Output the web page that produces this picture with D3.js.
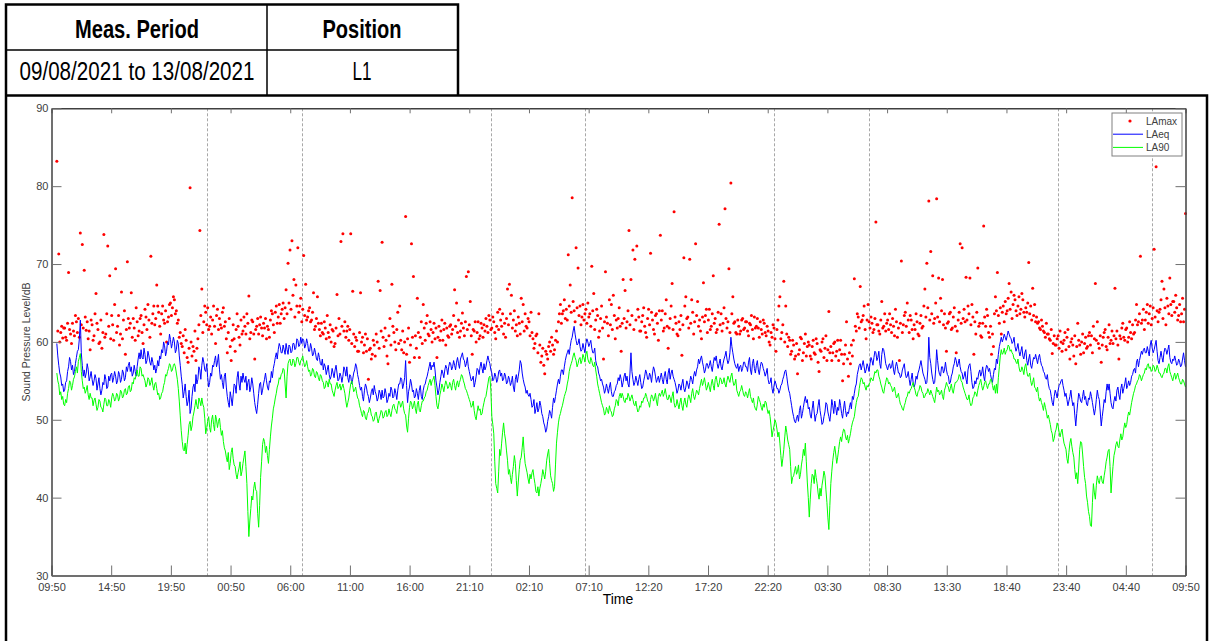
<!DOCTYPE html>
<html>
<head>
<meta charset="utf-8">
<script src="https://d3js.org/d3.v7.min.js"></script>
<style>
  body { margin: 0; background: #fff; }
  svg { display: block; font-family: "Liberation Sans", Arial, sans-serif; }
</style>
</head>
<body>
<svg id="chart"></svg>
<script>
var width = 1213, height = 641;

// header table
var headerLabels = ["Meas. Period", "Position"];
var headerValues = ["09/08/2021 to 13/08/2021", "L1"];

// axes
var tickLabels = ["09:50", "14:50", "19:50", "00:50", "06:00", "11:00", "16:00", "21:10", "02:10", "07:10",
                  "12:20", "17:20", "22:20", "03:30", "08:30", "13:30", "18:40", "23:40", "04:40", "09:50"];
var yTicks = [30, 40, 50, 60, 70, 80, 90];
var spanHours = 96;            // 09:50 09/08 -> 09:50 13/08
var sampleStart = 0.45;        // first logged sample, hours after 09:50
// day / night boundaries (23:00 and 07:00), hours after 09:50
var periodLines = [13.17, 21.17, 37.17, 45.17, 61.17, 69.17, 85.17, 93.17];

var seriesNames = ["LAmax", "LAeq", "LA90"];

// LAmax, dB (5 min)
var laMax = [
  83.2, 61.4, 71.3, 60.0, 61.2, 62.0, 60.5, 61.8, 61.8, 60.6, 60.2, 62.4, 68.9, 61.6, 61.0, 59.8, 62.4, 61.4, 60.8, 63.4,
  62.6, 61.2, 63.0, 60.6, 74.0, 62.2, 72.5, 61.8, 69.2, 63.2, 61.5, 62.6, 60.4, 61.4, 59.0, 62.8, 62.2, 60.2, 60.8, 63.6,
  66.2, 62.4, 61.6, 59.8, 60.0, 62.8, 59.2, 61.2, 73.8, 60.6, 61.0, 63.6, 72.3, 62.0, 68.5, 60.4, 63.4, 62.2, 60.2, 64.8,
  69.4, 61.2, 62.0, 63.4, 59.6, 61.0, 66.4, 60.4, 62.8, 64.0, 58.4, 61.6, 70.3, 63.0, 61.8, 62.4, 66.3, 60.6, 63.0, 61.8,
  60.2, 64.4, 62.6, 60.8, 61.4, 63.0, 63.4, 61.2, 59.8, 62.2, 64.2, 63.2, 61.6, 64.8, 62.8, 60.6, 71.0, 62.4, 63.6, 64.6,
  62.2, 63.0, 67.3, 64.6, 63.8, 62.0, 61.0, 63.6, 64.6, 62.8, 62.4, 64.0, 60.0, 62.6, 63.2, 64.8, 65.0, 63.4, 64.4, 65.8,
  65.4, 63.6, 64.0, 62.4, 62.8, 60.6, 61.2, 59.8, 59.4, 60.8, 58.6, 61.6, 60.2, 58.0, 57.4, 59.2, 79.8, 60.0, 58.2, 59.4,
  58.8, 61.4, 57.6, 59.2, 60.4, 62.2, 74.3, 63.4, 66.8, 61.2, 62.6, 64.6, 63.8, 62.2, 64.4, 61.6, 62.0, 63.2, 61.0, 62.8,
  64.6, 62.0, 59.8, 63.4, 64.2, 61.6, 63.0, 62.2, 61.8, 63.8, 64.4, 62.0, 62.6, 60.4, 58.6, 61.2, 63.0, 59.4, 57.6, 60.2,
  62.2, 60.4, 58.8, 61.6, 63.6, 62.0, 60.6, 59.6, 62.8, 61.0, 61.4, 63.2,
  62.0, 61.0, 63.6, 62.4, 65.9, 60.4, 61.2, 62.8, 62.6, 61.0, 57.8, 61.6, 62.0, 63.0, 61.0, 62.2, 63.2, 61.8, 60.8, 62.4,
  61.8, 63.0, 60.4, 62.0, 61.6, 60.6, 62.8, 64.0, 63.6, 62.2, 61.2, 63.8, 64.6, 62.4, 63.2, 64.8, 62.4, 63.6, 64.2, 65.0,
  63.0, 64.4, 66.7, 63.6, 70.1, 65.0, 71.8, 64.2, 73.0, 66.0, 68.0, 63.2, 67.3, 64.6, 72.1, 63.8, 64.6, 65.6, 62.6, 64.2,
  71.1, 63.4, 67.4, 62.8, 63.2, 64.0, 64.4, 62.6, 62.8, 63.8, 66.3, 61.6, 62.0, 63.0, 65.8, 62.4, 61.6, 60.8, 62.4, 61.2,
  61.0, 62.6, 61.8, 60.4, 63.4, 61.2, 60.6, 62.2, 60.0, 61.6, 61.4, 59.4, 59.8, 61.8, 66.1, 60.8, 63.0, 61.0, 72.9, 62.0,
  73.9, 61.4, 62.6, 60.6, 61.4, 62.0, 60.2, 61.6, 73.9, 59.8, 66.5, 61.0, 59.4, 60.6, 60.2, 58.8, 58.8, 61.2, 66.3, 60.0,
  60.6, 58.6, 59.6, 61.0, 58.8, 60.4, 55.2, 59.0, 59.2, 57.8, 58.4, 60.2, 59.6, 58.2, 61.0, 60.0, 67.8, 59.2, 66.6, 61.4,
  72.8, 60.6, 59.4, 61.8, 60.2, 58.2, 57.2, 60.8, 63.0, 59.6, 67.4, 62.0, 61.2, 60.0, 59.0, 61.6, 63.8, 59.8, 64.6, 60.2,
  59.0, 61.4, 58.6, 60.0, 76.1, 58.4, 60.4, 61.8, 57.4, 59.6, 72.6, 60.6, 68.4, 58.0, 60.8, 59.2, 65.6, 61.2, 58.0, 60.6,
  62.6, 59.8, 64.8, 61.8, 60.2, 62.4, 63.4, 61.0, 60.8, 62.6, 61.6, 60.0,
  61.2, 62.4, 60.4, 61.8, 58.0, 60.6, 62.0, 60.2, 61.4, 62.8, 60.2, 61.6, 62.4, 59.6, 61.8, 60.8, 60.6, 62.0, 62.2, 61.0,
  61.6, 63.4, 66.7, 62.0, 65.0, 61.2, 62.8, 60.6, 61.4, 62.4, 63.7, 61.8, 60.8, 62.6, 68.4, 61.6, 69.0, 62.2, 65.2, 60.8,
  58.4, 61.6, 61.4, 62.6, 60.0, 61.2, 62.6, 60.4, 60.8, 62.4, 61.8, 60.6, 62.2, 61.4, 63.0, 62.0, 61.2, 63.4, 62.8, 61.6,
  61.8, 63.2, 62.6, 61.2, 60.4, 62.0, 63.8, 61.6, 64.2, 62.8, 62.0, 63.6, 61.0, 62.4, 60.6, 63.0, 66.8, 62.2, 67.4, 63.6,
  66.0, 61.8, 62.8, 64.0, 61.4, 62.2, 60.8, 63.2, 62.4, 61.0, 65.6, 62.6, 64.8, 61.4, 63.6, 62.0, 61.8, 63.0, 62.6, 60.8,
  63.8, 61.2, 60.4, 59.2, 59.8, 60.8, 61.0, 58.6, 63.6, 59.6, 57.4, 58.2, 59.2, 57.0, 55.9, 58.8, 58.4, 57.8, 59.4, 60.0,
  58.8, 60.6, 59.6, 58.4, 59.0, 60.2, 61.4, 60.0, 62.6, 63.6, 64.8, 62.4, 63.6, 64.0, 65.4, 63.0, 64.2, 62.8, 71.2, 64.6,
  67.3, 63.8, 78.5, 65.2, 64.0, 62.6, 72.1, 64.4, 69.5, 63.4, 64.6, 62.2, 63.2, 64.8, 62.8, 63.6, 64.2, 62.4, 65.0, 63.2,
  63.6, 62.0, 69.7, 64.0, 66.2, 61.6, 62.8, 64.2, 63.4, 60.6, 61.4, 63.0, 64.6, 61.8, 57.8, 62.6, 69.0, 63.2, 62.4, 60.8,
  65.4, 62.2, 64.8, 61.6, 66.0, 63.4, 60.4, 62.8, 61.8, 63.0, 64.4, 62.0,
  58.8, 62.4, 68.0, 63.0, 66.6, 61.8, 62.6, 64.0, 74.3, 62.2, 68.0, 63.4, 71.8, 61.6, 70.6, 62.8, 72.3, 64.2, 63.2, 61.4,
  61.4, 62.6, 63.4, 64.4, 62.0, 61.2, 60.6, 63.0, 64.2, 62.2, 71.4, 63.8, 62.8, 61.6, 61.0, 63.4, 63.6, 62.4, 60.2, 64.0,
  73.7, 62.8, 64.0, 61.4, 61.8, 63.6, 65.4, 62.0, 59.2, 61.8, 63.0, 64.6, 67.5, 61.6, 76.7, 63.2, 62.4, 61.0, 60.8, 62.6,
  61.6, 63.4, 58.3, 62.2, 70.8, 64.6, 65.8, 63.0, 63.2, 61.8, 70.6, 62.4, 65.4, 63.8, 61.0, 62.6, 72.6, 63.4, 65.2, 62.0,
  62.8, 61.4, 60.4, 63.2, 67.6, 62.6, 63.4, 64.2, 61.2, 62.8, 64.2, 61.6, 62.0, 63.6, 68.5, 62.4, 63.0, 61.2, 61.6, 63.8,
  75.1, 62.2, 63.6, 61.4, 62.4, 64.4, 77.1, 63.0, 61.8, 62.6, 69.4, 61.2, 80.4, 63.6, 65.8, 62.4, 62.6, 61.2, 61.0, 62.8,
  62.0, 61.0, 61.4, 62.8, 63.0, 61.6, 61.8, 62.6, 62.6, 61.4, 60.8, 62.4, 62.2, 63.4, 61.6, 60.4, 63.2, 61.8, 62.0, 63.0,
  61.8, 60.6, 62.6, 61.6, 61.0, 62.8, 62.4, 61.2, 60.8, 62.0, 61.4, 60.0, 59.6, 61.2, 60.6, 62.2, 61.8, 60.4, 58.8, 61.6,
  62.8, 64.6, 65.8, 60.4, 61.2, 62.2, 67.8, 60.0, 64.6, 61.0, 59.4, 60.6, 60.2, 58.4, 58.8, 60.2, 59.6, 57.8, 58.2, 59.8,
  55.9, 58.4, 59.0, 60.6, 60.4, 57.6, 58.6, 59.8, 61.0, 58.2, 59.4, 60.0,
  59.6, 58.2, 57.8, 59.4, 60.2, 58.6, 58.4, 60.4, 59.8, 57.4, 56.2, 59.0, 58.8, 60.0, 60.4, 58.0, 59.2, 60.8, 57.6, 59.0,
  63.9, 58.6, 59.4, 57.6, 58.6, 59.8, 60.0, 58.2, 58.8, 60.2, 57.6, 59.0, 60.2, 58.4, 55.0, 57.2, 58.4, 59.6, 62.6, 57.8,
  55.6, 58.6, 57.2, 59.6, 58.2, 60.2, 68.1, 62.0, 61.4, 63.6, 63.2, 61.8, 67.1, 62.6, 62.8, 63.4, 64.6, 61.6, 60.4, 62.8,
  64.8, 62.6, 61.8, 63.2, 62.4, 61.2, 61.6, 63.0, 75.4, 62.2, 62.2, 61.4, 61.0, 62.8, 65.2, 61.8, 62.0, 63.6, 61.4, 62.4,
  62.8, 61.6, 63.6, 62.2, 61.2, 63.0, 62.0, 60.8, 64.2, 62.6, 60.6, 61.8, 57.6, 62.4, 70.4, 61.2, 62.2, 63.4, 63.8, 62.0,
  65.0, 62.8, 61.2, 63.4, 62.8, 61.6, 60.4, 62.2, 61.6, 63.6, 62.6, 61.0, 60.8, 62.4, 63.4, 61.8, 62.0, 64.6, 66.8, 63.2,
  70.1, 64.4, 78.1, 62.8, 71.6, 63.6, 68.5, 62.4, 63.0, 65.0, 78.4, 63.2, 68.2, 62.6, 65.6, 64.0, 68.0, 62.2, 63.6, 61.8,
  58.8, 62.4, 62.6, 63.6, 63.8, 61.6, 61.8, 63.2, 64.4, 62.0, 58.6, 61.4, 62.8, 63.8, 72.6, 62.4, 72.1, 63.0, 64.2, 62.6,
  68.3, 62.8, 64.6, 63.6, 68.2, 62.2, 64.8, 63.2, 58.4, 62.6, 61.0, 63.8, 69.5, 62.0, 62.4, 60.8, 60.6, 62.4, 74.9, 63.2,
  62.0, 64.2, 63.4, 61.2, 60.6, 62.0, 58.4, 61.0, 59.4, 63.6, 65.8, 64.0,
  68.9, 63.4, 62.4, 64.4, 61.0, 63.8, 64.6, 62.6, 65.2, 63.6, 64.0, 65.6, 67.5, 64.2, 66.4, 63.0, 64.8, 66.0, 65.4, 64.0,
  63.4, 64.6, 65.8, 63.6, 64.2, 66.2, 65.4, 63.8, 63.2, 64.4, 63.8, 65.0, 70.2, 63.6, 64.6, 62.8, 66.9, 63.4, 64.8, 62.6,
  63.2, 62.4, 62.6, 61.8, 61.6, 62.8, 62.0, 61.4, 61.2, 60.6, 62.4, 61.0, 61.0, 60.4, 60.2, 61.6, 58.5, 59.8, 60.8, 59.6,
  59.6, 60.4, 60.8, 59.2, 61.4, 60.0, 58.8, 59.8, 60.2, 61.2, 59.0, 60.6, 61.6, 59.4, 57.8, 60.0, 60.4, 59.6, 58.2, 60.8,
  57.2, 59.4, 62.4, 60.2, 59.6, 58.4, 60.0, 61.0, 58.6, 59.8, 60.6, 59.2, 59.4, 60.8, 61.2, 59.6, 60.8, 58.6, 62.0, 60.4,
  67.5, 60.2, 62.6, 59.8, 59.2, 60.8, 57.4, 59.6, 60.6, 61.2, 61.6, 59.4, 59.0, 60.6, 62.2, 59.8, 60.2, 61.4, 59.8, 60.8,
  66.9, 60.4, 61.4, 59.6, 57.8, 60.8, 60.4, 61.8, 62.4, 60.6, 60.2, 61.6, 61.8, 60.0, 60.6, 62.6, 61.2, 60.4, 62.2, 61.0,
  61.2, 62.8, 64.8, 62.2, 62.6, 63.6, 71.0, 62.4, 62.8, 64.2, 61.6, 62.8, 63.8, 64.8, 62.4, 63.6, 64.6, 62.2, 63.0, 64.4,
  71.9, 63.2, 82.5, 64.0, 62.6, 63.8, 64.2, 65.4, 67.8, 63.0, 66.8, 64.4, 62.2, 65.6, 64.6, 63.6, 68.2, 64.8, 63.4, 65.2,
  65.2, 63.8, 66.0, 64.4, 62.8, 63.4, 64.8, 62.6, 63.6, 65.6, 62.6, 64.2, 76.5
];

// LAeq, dB (5 min)
var laEq = [
  59.8, 58.2, 57.0, 56.0, 55.5, 54.4, 54.6, 53.6, 53.8, 54.8, 55.0, 56.2, 56.8, 58.0, 57.5, 56.4, 57.0, 55.8, 56.2, 57.2,
  58.0, 58.8, 59.0, 60.4, 62.8, 58.6, 57.0, 55.6, 56.4, 55.4, 56.0, 57.2, 56.5, 55.0, 55.5, 56.2, 55.2, 54.4, 55.0, 55.8,
  55.3, 53.8, 54.6, 55.4, 54.0, 53.2, 53.8, 54.8, 54.5, 55.8, 55.2, 54.0, 54.2, 55.6, 55.0, 55.8, 56.0, 54.8, 55.4, 56.2,
  55.6, 54.6, 55.0, 56.2, 55.8, 54.8, 55.2, 56.4, 56.0, 55.0, 55.4, 56.8, 56.2, 57.0, 57.4, 56.2, 56.8, 55.6, 56.0, 57.0,
  56.2, 55.6, 56.8, 57.8, 58.6, 57.8, 59.0, 58.0, 57.8, 59.2, 58.4, 57.2, 57.6, 58.8, 58.2, 57.4, 57.0, 58.0, 57.4, 56.4,
  57.0, 56.0, 56.6, 57.6, 56.9, 58.2, 57.8, 59.0, 58.6, 60.0, 59.5, 58.2, 58.8, 60.0, 59.6, 61.0, 60.3, 59.2, 59.8, 60.6,
  60.0, 58.6, 59.0, 60.2, 59.8, 58.2, 57.0, 55.6, 54.5, 52.8, 53.6, 54.6, 53.0, 51.8, 52.4, 53.8, 50.8, 51.4, 53.0, 54.2,
  54.6, 53.6, 55.8, 54.6, 55.2, 56.8, 56.4, 55.2, 57.0, 58.0, 57.4, 56.4, 56.2, 57.2, 55.4, 54.2, 54.8, 56.0, 55.6, 57.0,
  56.8, 57.6, 58.2, 56.8, 57.4, 58.4, 56.5, 55.2, 55.8, 54.8, 54.0, 55.6, 56.0, 54.2, 53.0, 52.2, 51.6, 53.6, 52.8, 51.8,
  53.2, 54.6, 54.4, 53.4, 55.4, 56.2, 54.6, 53.8, 55.6, 54.8, 56.0, 55.2,
  54.8, 55.6, 53.8, 54.8, 55.2, 53.6, 54.2, 55.4, 54.6, 53.4, 52.2, 51.4, 50.8, 52.0, 53.4, 54.6, 54.8, 53.2, 53.8, 54.6,
  55.2, 56.0, 55.0, 54.2, 53.8, 55.0, 54.8, 56.2, 55.4, 56.6, 57.2, 58.0, 58.6, 57.8, 59.0, 59.8, 59.4, 58.6, 58.6, 59.6,
  59.0, 58.4, 59.8, 59.0, 58.4, 59.6, 59.4, 58.6, 58.8, 59.8, 59.8, 59.0, 59.2, 60.4, 60.2, 59.4, 59.6, 60.6, 59.8, 60.4,
  60.2, 59.2, 59.6, 60.4, 59.8, 58.8, 58.8, 59.8, 59.2, 58.2, 58.4, 59.2, 58.6, 57.8, 57.6, 58.6, 58.0, 57.2, 57.0, 57.8,
  56.4, 57.2, 56.8, 55.8, 56.4, 57.0, 55.8, 55.2, 55.6, 56.6, 56.0, 55.4, 56.4, 57.0, 56.0, 55.0, 55.2, 56.0, 55.6, 54.8,
  55.6, 56.8, 56.4, 55.6, 56.8, 55.4, 54.8, 55.8, 55.6, 54.6, 55.2, 56.0, 56.4, 57.2, 56.8, 55.8, 55.2, 54.4, 53.8, 54.2,
  53.0, 52.4, 53.8, 54.6, 54.2, 53.4, 53.0, 52.2, 52.8, 53.6, 54.0, 53.2, 54.4, 53.6, 53.2, 52.4, 52.8, 53.8, 53.4, 52.6,
  53.8, 52.8, 53.0, 54.0, 53.4, 52.2, 52.6, 53.4, 53.0, 54.2, 53.8, 52.8, 53.0, 54.0, 53.4, 52.6, 53.8, 54.6, 54.6, 55.4,
  55.2, 54.0, 54.6, 55.4, 57.6, 54.4, 52.2, 53.6, 54.2, 55.2, 54.6, 53.6, 53.8, 52.8, 53.0, 54.0, 53.4, 52.6, 53.8, 54.4,
  53.0, 52.6, 53.8, 54.4, 54.6, 55.2, 55.6, 56.2, 56.8, 57.4, 56.4, 57.0,
  56.8, 57.4, 56.4, 55.0, 54.2, 53.2, 53.8, 54.8, 55.6, 56.4, 56.0, 55.4, 56.4, 57.0, 56.6, 55.8, 56.8, 57.4, 57.2, 56.4,
  56.8, 57.6, 57.0, 56.4, 57.4, 58.0, 57.2, 56.6, 57.8, 58.2, 58.6, 57.8, 57.6, 56.8, 57.2, 58.0, 56.8, 56.2, 55.6, 55.0,
  55.2, 55.6, 54.2, 54.8, 55.6, 56.6, 56.4, 55.8, 56.8, 57.4, 56.6, 56.0, 57.2, 56.4, 56.8, 57.6, 58.2, 57.6, 57.2, 56.4,
  56.0, 55.0, 55.2, 56.0, 55.6, 54.8, 55.2, 56.2, 56.4, 55.6, 56.0, 55.0, 55.2, 56.0, 55.6, 54.6, 54.8, 55.6, 55.2, 54.4,
  54.8, 55.6, 54.2, 53.6, 55.2, 55.8, 54.8, 55.6, 56.4, 57.6, 57.2, 56.0, 55.2, 54.6, 54.2, 53.4, 53.8, 53.2, 53.0, 53.4,
  52.6, 51.6, 51.8, 52.6, 50.8, 51.4, 52.2, 51.0, 51.4, 52.4, 51.8, 50.8, 50.4, 49.6, 49.2, 48.4, 48.8, 49.8, 50.4, 51.2,
  50.8, 50.2, 51.6, 52.8, 52.2, 53.0, 53.8, 54.6, 55.2, 54.6, 55.6, 56.4, 56.4, 55.8, 56.8, 57.6, 58.2, 58.6, 59.0, 58.4,
  59.4, 60.2, 60.6, 61.4, 62.0, 61.0, 60.2, 59.6, 59.8, 60.4, 59.4, 58.8, 59.0, 59.8, 59.2, 58.6, 59.8, 60.4, 60.0, 59.4,
  59.8, 60.2, 59.2, 58.6, 58.6, 59.2, 57.6, 57.0, 56.8, 56.0, 55.6, 55.0, 55.2, 54.6, 54.2, 53.4, 53.8, 54.6, 54.0, 53.4,
  54.2, 54.8, 53.6, 53.0, 53.0, 53.6, 53.8, 54.4, 54.6, 55.4, 55.0, 55.8,
  55.2, 54.2, 54.8, 55.6, 56.0, 55.0, 55.6, 54.6, 54.2, 56.0, 58.6, 56.2, 55.2, 54.4, 54.8, 55.6, 55.0, 54.4, 55.2, 55.8,
  54.8, 54.0, 54.2, 55.0, 55.6, 56.4, 56.0, 55.2, 55.2, 56.0, 55.6, 54.8, 56.0, 56.8, 56.4, 55.6, 54.8, 55.2, 55.6, 54.8,
  55.4, 56.0, 55.2, 54.6, 55.6, 56.2, 55.2, 54.6, 56.0, 56.6, 55.2, 56.0, 56.4, 55.6, 55.2, 54.8, 54.2, 53.4, 53.8, 54.6,
  54.4, 53.8, 54.6, 55.2, 54.0, 53.6, 54.2, 55.0, 54.6, 54.0, 54.8, 55.6, 55.2, 54.6, 55.6, 56.2, 55.6, 56.4, 56.8, 57.8,
  57.2, 57.8, 58.2, 57.4, 56.8, 56.0, 56.4, 57.2, 57.2, 56.6, 57.0, 57.6, 56.8, 56.2, 57.2, 58.0, 57.6, 58.2, 57.2, 56.6,
  57.2, 57.8, 56.8, 56.4, 57.2, 57.8, 58.2, 58.8, 57.8, 57.2, 57.6, 58.6, 60.6, 59.4, 58.6, 57.8, 57.2, 56.8, 56.6, 57.2,
  56.2, 56.8, 57.0, 56.2, 56.6, 57.4, 57.4, 56.8, 56.8, 56.2, 57.4, 58.0, 56.4, 55.8, 57.2, 57.8, 56.6, 56.0, 57.0, 57.6,
  56.4, 55.8, 56.8, 57.4, 57.2, 56.6, 56.2, 55.6, 56.0, 56.6, 55.2, 54.6, 54.8, 55.4, 54.0, 53.4, 54.4, 55.0, 54.6, 54.0,
  54.0, 53.4, 53.8, 54.4, 54.6, 55.2, 55.6, 56.2, 56.4, 55.6, 54.6, 53.8, 53.4, 52.6, 51.8, 51.0, 50.4, 49.8, 49.6, 50.2,
  50.6, 49.8, 51.2, 51.8, 50.2, 50.8, 51.6, 52.4, 53.0, 52.2, 52.6, 51.4,
  51.6, 50.6, 50.2, 51.4, 52.4, 51.0, 49.8, 50.6, 50.8, 51.8, 52.6, 51.2, 50.4, 49.4, 49.6, 50.4, 51.0, 52.2, 52.0, 51.0,
  50.4, 49.8, 51.0, 52.6, 51.8, 50.8, 52.4, 51.6, 50.6, 51.6, 51.2, 52.6, 51.8, 50.8, 50.2, 51.4, 52.4, 51.2, 50.4, 51.0,
  50.8, 51.6, 52.2, 51.4, 53.0, 52.6, 53.4, 54.2, 54.6, 55.8, 56.4, 57.0, 57.2, 56.4, 57.0, 57.6, 56.8, 56.0, 56.4, 57.2,
  56.8, 56.2, 57.2, 58.0, 57.6, 57.0, 58.0, 58.8, 58.6, 57.6, 58.0, 58.8, 57.2, 56.6, 58.4, 59.2, 59.0, 58.2, 57.2, 56.8,
  56.4, 57.0, 57.2, 56.6, 56.8, 57.6, 56.4, 55.8, 56.8, 57.4, 56.8, 56.0, 56.0, 55.4, 55.6, 56.4, 56.8, 57.2, 56.0, 55.4,
  55.6, 56.2, 55.2, 54.4, 55.2, 56.0, 54.8, 54.2, 54.6, 55.6, 55.2, 56.0, 56.4, 57.0, 57.6, 56.8, 56.0, 55.6, 55.2, 54.6,
  54.8, 56.4, 60.6, 58.0, 57.2, 56.0, 55.2, 54.6, 54.8, 56.4, 59.0, 57.6, 56.4, 55.8, 55.6, 56.8, 56.8, 56.0, 56.4, 57.4,
  56.4, 55.8, 55.6, 54.6, 54.8, 55.6, 56.0, 56.8, 57.2, 58.0, 57.6, 56.8, 57.2, 57.8, 56.8, 56.2, 56.0, 55.2, 55.6, 56.2,
  55.2, 54.6, 56.4, 57.0, 57.2, 56.2, 54.8, 54.0, 54.2, 55.0, 54.6, 55.4, 55.2, 56.0, 56.4, 55.6, 56.0, 56.8, 55.6, 55.0,
  56.4, 57.0, 56.8, 56.2, 56.6, 55.8, 55.2, 54.8, 55.8, 56.6, 56.4, 57.8,
  57.2, 58.4, 59.4, 60.0, 60.6, 60.0, 60.4, 61.0, 60.6, 60.2, 60.8, 61.4, 61.0, 60.6, 60.4, 59.8, 60.0, 60.6, 59.4, 58.8,
  59.2, 59.8, 58.8, 58.2, 58.8, 59.4, 58.2, 57.8, 58.6, 59.0, 57.6, 57.0, 57.8, 58.4, 57.0, 56.6, 57.4, 58.0, 57.8, 58.4,
  57.8, 57.2, 58.0, 58.4, 57.6, 57.0, 56.8, 56.2, 56.0, 55.4, 55.2, 55.8, 54.6, 54.0, 53.8, 53.0, 52.2, 51.8, 53.0, 53.8,
  53.4, 52.8, 53.8, 54.4, 54.6, 55.0, 55.2, 54.4, 53.8, 53.0, 53.4, 52.6, 51.8, 52.4, 53.0, 53.8, 52.6, 51.8, 52.2, 50.6,
  49.2, 50.8, 52.2, 53.4, 53.0, 52.4, 52.2, 53.0, 53.8, 52.6, 53.0, 52.0, 51.8, 52.8, 52.6, 53.6, 53.0, 52.2, 51.4, 50.6,
  51.4, 52.6, 53.8, 53.0, 52.6, 51.0, 49.2, 50.4, 51.4, 52.6, 52.2, 53.6, 54.6, 53.8, 54.6, 53.4, 52.2, 51.6, 51.4, 52.4,
  53.0, 52.4, 53.8, 54.2, 53.2, 52.6, 54.0, 54.6, 53.4, 54.0, 54.6, 55.4, 54.0, 54.4, 55.0, 54.4, 54.8, 55.6, 55.8, 56.4,
  56.6, 56.0, 57.4, 57.8, 56.8, 57.6, 58.2, 58.8, 58.4, 59.0, 59.2, 58.6, 58.6, 59.4, 58.8, 58.2, 59.6, 60.2, 59.2, 58.6,
  59.0, 59.6, 60.2, 58.8, 57.6, 57.2, 58.0, 58.8, 58.0, 57.4, 58.6, 59.2, 59.0, 58.4, 59.0, 59.6, 58.0, 57.4, 57.2, 57.8,
  57.6, 58.2, 57.6, 57.0, 57.2, 57.8, 57.4, 56.8, 57.0, 57.8, 58.6, 57.6, 56.8
];

// LA90, dB (5 min)
var la90 = [
  56.0, 55.0, 54.5, 53.2, 53.6, 52.6, 53.0, 52.0, 51.8, 52.6, 52.2, 53.4, 54.0, 55.0, 54.8, 53.8, 54.4, 55.2, 55.5, 56.2,
  56.8, 56.0, 57.5, 58.0, 58.5, 56.2, 55.0, 54.0, 54.2, 53.4, 53.8, 54.4, 53.2, 52.6, 53.4, 52.8, 52.8, 51.8, 52.5, 52.8,
  52.0, 51.2, 51.6, 52.6, 52.4, 51.6, 51.5, 51.0, 52.0, 52.8, 52.6, 51.8, 51.8, 52.6, 52.3, 51.6, 52.8, 53.4, 53.0, 52.4,
  52.6, 53.4, 53.2, 52.4, 52.8, 53.8, 53.6, 52.8, 53.0, 53.8, 54.0, 53.2, 53.4, 54.2, 54.4, 53.6, 53.8, 54.8, 54.6, 55.4,
  55.2, 55.8, 56.4, 55.6, 55.6, 56.8, 56.6, 55.6, 55.8, 55.4, 55.0, 54.2, 54.6, 55.4, 55.2, 54.4, 54.8, 55.4, 54.4, 53.8,
  54.6, 54.8, 54.0, 53.2, 53.4, 52.6, 52.8, 53.4, 53.6, 54.4, 54.8, 55.8, 55.6, 56.2, 56.6, 57.2, 57.0, 56.2, 56.4, 57.0,
  57.2, 56.8, 56.0, 55.2, 54.0, 52.4, 50.5, 48.6, 47.2, 46.2, 46.0, 47.0, 45.6, 46.8, 48.0, 49.4, 49.8, 48.6, 49.2, 50.4,
  51.0, 51.8, 52.6, 51.8, 51.4, 52.8, 52.4, 51.8, 52.8, 52.0, 51.6, 50.2, 48.2, 49.0, 49.8, 50.4, 49.0, 48.4, 50.0, 50.6,
  49.4, 48.6, 50.6, 50.0, 49.0, 49.8, 50.2, 49.0, 48.0, 48.6, 47.2, 46.4, 46.0, 45.2, 44.6, 45.8, 43.6, 44.4, 45.8, 46.4,
  45.0, 44.2, 44.0, 43.0, 42.4, 43.2, 43.8, 44.6, 42.8, 43.4, 44.4, 45.2,
  46.0, 44.0, 41.8, 38.2, 35.0, 37.0, 38.6, 40.2, 39.7, 41.2, 42.0, 41.0, 40.8, 38.0, 36.2, 39.0, 42.6, 44.6, 46.8, 47.6,
  47.2, 45.8, 46.6, 45.4, 44.4, 46.2, 47.8, 49.2, 50.2, 51.4, 52.0, 52.8, 53.4, 54.2, 54.6, 55.4, 55.2, 55.8, 56.0, 56.6,
  56.4, 54.6, 52.8, 55.6, 57.2, 57.6, 57.8, 57.0, 57.0, 57.8, 57.6, 56.8, 57.2, 58.0, 58.0, 57.4, 57.0, 57.6, 57.8, 58.2,
  57.4, 56.8, 57.0, 57.6, 56.8, 56.2, 56.4, 55.6, 55.8, 56.6, 56.4, 55.6, 55.4, 56.2, 56.0, 55.4, 55.0, 55.8, 55.6, 55.0,
  54.8, 54.0, 54.2, 55.0, 54.8, 54.2, 55.2, 54.6, 54.6, 53.8, 53.4, 53.0, 53.8, 54.4, 54.8, 54.0, 54.2, 54.6, 53.8, 54.2,
  54.6, 54.0, 53.4, 52.4, 51.6, 52.2, 52.8, 53.8, 54.6, 55.0, 54.4, 53.6, 53.8, 54.2, 53.4, 52.8, 52.6, 51.8, 51.4, 50.8,
  50.4, 51.2, 51.0, 50.2, 50.0, 50.8, 51.0, 51.6, 51.4, 50.6, 50.4, 49.8, 50.0, 50.8, 51.0, 50.2, 49.6, 50.2, 50.6, 51.2,
  51.0, 50.2, 50.4, 51.0, 51.2, 50.4, 50.6, 51.4, 50.8, 50.4, 51.2, 51.8, 52.0, 51.4, 51.2, 50.8, 51.8, 52.4, 52.2, 51.6,
  52.0, 52.4, 51.4, 50.8, 50.6, 49.2, 48.4, 50.2, 51.6, 52.4, 52.2, 51.4, 51.8, 52.4, 51.4, 50.8, 52.0, 52.4, 51.2, 51.0,
  51.8, 52.4, 52.4, 52.8, 53.0, 53.6, 53.8, 54.4, 54.8, 55.2, 54.4, 55.0,
  55.2, 55.6, 54.4, 53.0, 51.8, 51.4, 52.2, 53.2, 53.8, 54.6, 54.2, 53.6, 54.4, 55.0, 54.6, 54.0, 54.2, 54.8, 54.4, 53.8,
  54.8, 55.2, 54.4, 53.8, 54.6, 55.0, 54.2, 54.8, 55.2, 55.8, 55.6, 55.0, 54.6, 54.0, 53.8, 53.4, 53.0, 52.6, 52.2, 51.6,
  51.8, 52.4, 51.2, 50.4, 50.0, 51.0, 51.8, 51.2, 51.4, 50.6, 50.8, 51.6, 52.2, 52.8, 53.0, 53.8, 54.6, 55.4, 55.6, 53.8,
  50.4, 49.4, 48.2, 44.6, 41.8, 41.2, 40.6, 43.4, 46.2, 45.4, 47.0, 48.4, 49.6, 48.2, 47.4, 46.0, 44.8, 43.0, 43.6, 42.6,
  41.8, 43.0, 44.0, 45.4, 44.4, 42.2, 40.2, 42.0, 43.6, 44.8, 45.2, 46.4, 47.8, 45.8, 44.4, 43.8, 43.2, 42.4, 41.8, 43.0,
  42.4, 43.2, 43.6, 42.6, 41.8, 40.8, 40.6, 41.4, 40.2, 41.2, 41.8, 42.6, 43.6, 43.0, 42.4, 43.4, 44.8, 45.6, 46.2, 44.4,
  42.8, 42.2, 41.8, 40.8, 41.4, 44.2, 47.0, 48.4, 49.6, 50.4, 50.8, 51.4, 51.8, 52.4, 53.0, 53.4, 53.8, 54.6, 55.2, 56.2,
  56.8, 57.2, 57.6, 58.2, 58.6, 58.0, 57.6, 56.8, 57.2, 57.8, 58.0, 57.2, 57.6, 58.4, 58.0, 57.4, 58.4, 58.8, 57.8, 57.4,
  57.2, 58.0, 57.6, 57.0, 56.8, 57.4, 56.4, 55.6, 54.6, 54.0, 53.4, 52.8, 52.2, 51.8, 51.4, 50.6, 50.8, 51.6, 51.2, 50.8,
  51.8, 51.2, 51.0, 50.4, 50.6, 51.4, 51.8, 52.6, 52.4, 51.8, 53.0, 53.4,
  52.8, 53.4, 53.0, 52.4, 52.2, 52.8, 52.6, 53.4, 53.0, 52.4, 52.8, 53.2, 52.6, 52.0, 51.8, 52.4, 51.6, 51.0, 51.2, 51.8,
  51.6, 52.4, 52.2, 52.8, 52.8, 53.4, 53.0, 52.4, 52.2, 51.6, 52.6, 53.2, 53.0, 52.4, 52.8, 53.4, 52.4, 51.8, 53.0, 53.4,
  53.0, 53.4, 53.8, 53.0, 53.4, 54.0, 53.2, 52.6, 52.6, 53.2, 52.8, 52.2, 53.0, 53.6, 52.2, 51.6, 51.8, 52.6, 52.0, 51.4,
  52.2, 52.8, 51.8, 51.2, 52.2, 52.8, 52.0, 51.6, 52.6, 53.2, 52.8, 52.2, 53.4, 54.0, 53.0, 52.6, 53.2, 53.8, 53.6, 53.2,
  54.0, 54.6, 55.2, 54.4, 54.8, 55.4, 54.6, 53.8, 54.2, 54.8, 54.2, 53.6, 54.6, 55.2, 54.4, 53.8, 55.2, 55.6, 54.8, 54.2,
  54.6, 55.4, 55.2, 54.6, 54.8, 55.4, 54.6, 54.2, 55.0, 55.6, 55.2, 54.8, 55.6, 56.0, 55.0, 54.4, 54.6, 55.2, 53.8, 53.4,
  53.0, 53.6, 53.8, 54.4, 53.8, 53.2, 53.0, 53.6, 53.4, 52.8, 53.4, 54.0, 53.0, 52.6, 52.2, 52.8, 51.8, 51.4, 51.2, 52.0,
  53.0, 52.6, 52.2, 51.6, 51.2, 52.0, 51.6, 52.4, 52.2, 51.4, 50.8, 51.2, 50.4, 49.2, 47.8, 48.6, 49.2, 50.0, 49.6, 48.8,
  47.8, 48.4, 47.0, 45.4, 44.0, 45.0, 46.2, 47.8, 49.2, 48.4, 47.4, 46.8, 46.2, 44.0, 41.8, 42.6, 42.8, 43.4, 44.0, 43.0,
  43.4, 44.2, 42.4, 43.0, 44.2, 45.0, 46.2, 45.4, 47.0, 44.6, 42.0, 40.0,
  37.5, 39.8, 41.8, 43.0, 42.8, 41.8, 43.6, 42.6, 41.8, 40.6, 39.8, 41.2, 40.2, 41.6, 42.4, 43.4, 42.8, 41.0, 39.4, 37.4,
  35.9, 39.0, 41.8, 43.4, 44.8, 45.8, 46.6, 45.6, 44.4, 45.2, 46.2, 47.2, 47.8, 47.2, 48.2, 48.8, 48.7, 47.8, 47.4, 48.0,
  47.0, 47.6, 48.2, 49.0, 49.6, 50.0, 50.4, 51.4, 52.2, 52.8, 53.0, 54.0, 54.8, 55.4, 55.2, 54.6, 54.8, 54.2, 53.8, 54.4,
  54.2, 54.6, 54.8, 55.4, 55.2, 55.0, 55.6, 56.2, 56.0, 56.4, 56.4, 55.6, 55.2, 54.6, 54.2, 53.6, 53.4, 54.2, 54.8, 55.4,
  55.2, 54.6, 54.8, 54.4, 54.2, 53.6, 53.8, 54.2, 53.4, 52.8, 53.0, 53.4, 52.6, 52.0, 51.8, 51.4, 51.2, 51.8, 52.2, 52.8,
  53.0, 53.6, 53.4, 53.8, 54.0, 54.4, 54.8, 54.2, 53.8, 53.2, 53.0, 53.6, 53.8, 54.4, 54.2, 53.6, 53.4, 52.8, 53.0, 53.4,
  53.4, 54.0, 53.6, 53.2, 53.8, 53.4, 53.0, 52.6, 52.2, 53.2, 54.2, 53.6, 53.8, 53.2, 53.4, 53.8, 53.0, 52.6, 53.8, 54.2,
  54.8, 54.4, 54.2, 53.6, 54.0, 54.6, 53.8, 53.4, 54.2, 54.8, 54.8, 55.0, 55.2, 55.8, 55.6, 55.0, 54.8, 54.2, 53.8, 53.4,
  53.0, 52.6, 52.6, 53.2, 52.2, 51.8, 52.0, 52.8, 53.0, 53.6, 53.4, 53.0, 53.8, 54.4, 54.8, 55.2, 54.4, 53.8, 54.2, 54.8,
  55.0, 54.4, 54.0, 54.6, 54.6, 55.2, 55.2, 54.4, 53.8, 54.4, 53.4, 54.6,
  53.4, 55.4, 56.8, 58.2, 59.0, 58.4, 58.6, 59.2, 58.4, 58.8, 59.0, 59.6, 59.4, 58.8, 59.0, 58.6, 58.4, 57.8, 57.8, 57.4,
  57.2, 57.8, 56.8, 56.2, 56.2, 56.8, 56.4, 55.8, 56.8, 57.2, 56.2, 55.6, 55.6, 56.0, 55.0, 54.4, 54.8, 55.4, 54.2, 54.0,
  53.6, 54.2, 53.0, 52.4, 52.8, 52.2, 51.8, 51.2, 52.2, 51.6, 51.0, 50.2, 50.6, 50.0, 49.4, 48.6, 48.2, 47.2, 47.6, 48.4,
  48.8, 49.6, 49.2, 48.4, 47.8, 48.4, 48.8, 47.8, 47.0, 46.6, 46.2, 45.0, 44.4, 45.8, 47.0, 47.6, 46.6, 45.8, 45.2, 43.6,
  42.4, 43.2, 41.8, 43.8, 46.2, 47.2, 47.0, 45.6, 44.0, 42.6, 41.8, 40.2, 39.4, 38.2, 37.6, 36.4, 36.3, 39.4, 41.8, 40.6,
  39.8, 41.6, 42.8, 42.2, 41.8, 42.6, 42.8, 42.0, 41.8, 42.8, 43.6, 44.6, 45.2, 46.0, 46.2, 44.0, 40.6, 42.4, 44.0, 45.4,
  46.0, 46.8, 47.2, 46.6, 46.4, 47.4, 48.2, 47.4, 47.8, 48.8, 49.6, 49.0, 49.4, 50.4, 51.0, 50.6, 51.4, 52.2, 52.8, 53.4,
  53.8, 54.4, 54.6, 55.0, 55.2, 55.8, 55.6, 55.0, 55.4, 55.8, 56.0, 56.6, 56.4, 57.0, 57.2, 56.6, 56.8, 56.2, 56.4, 57.0,
  56.8, 56.2, 56.4, 57.0, 56.6, 56.0, 56.0, 55.6, 55.4, 55.8, 56.0, 56.6, 56.6, 56.0, 56.8, 57.2, 56.2, 55.8, 55.4, 55.0,
  55.6, 56.0, 55.2, 55.6, 56.0, 55.4, 55.0, 54.6, 54.6, 55.2, 55.0, 54.6, 54.2
];

var colors = { LAmax: "#ff0000", LAeq: "#0000ff", LA90: "#00ff00" };

var svg = d3.select("#chart")
    .attr("width", width)
    .attr("height", height);

// ---- header table and page frame ----
var frame = svg.append("g").attr("stroke", "#000").attr("fill", "none");
frame.append("path").attr("stroke-width", 2.5).attr("d", "M6,641V4.5H458V95.5");
frame.append("path").attr("stroke-width", 2.5).attr("d", "M6,95.5H1207V641");
frame.append("path").attr("stroke-width", 1.5).attr("d", "M6,50H458M267,4.5V95.5");

var colCenters = [137, 362];
var labelWidths = [124, 79];
var valueWidths = [235, 19];

svg.selectAll(".hlabel")
    .data(headerLabels)
    .enter().append("text")
    .attr("class", "hlabel")
    .attr("x", (d, i) => colCenters[i])
    .attr("y", 38)
    .attr("text-anchor", "middle")
    .attr("font-family", "'Liberation Sans Narrow', 'Arial Narrow', 'Liberation Sans', Arial")
    .attr("font-weight", "bold")
    .attr("font-size", 25)
    .attr("textLength", (d, i) => labelWidths[i])
    .attr("lengthAdjust", "spacingAndGlyphs")
    .text(d => d);

svg.selectAll(".hvalue")
    .data(headerValues)
    .enter().append("text")
    .attr("class", "hvalue")
    .attr("x", (d, i) => colCenters[i])
    .attr("y", 80)
    .attr("text-anchor", "middle")
    .attr("font-family", "'Liberation Sans Narrow', 'Arial Narrow', 'Liberation Sans', Arial")
    .attr("font-size", 25)
    .attr("textLength", (d, i) => valueWidths[i])
    .attr("lengthAdjust", "spacingAndGlyphs")
    .text(d => d);

// ---- plot ----
var x = d3.scaleLinear().domain([0, spanHours]).range([51.5, 1185.5]);
var y = d3.scaleLinear().domain([30, 90]).range([575.5, 108.3]);

function toPoints(values) {
    var step = (spanHours - sampleStart) / (values.length - 1);
    return values.map((v, i) => [sampleStart + i * step, v]);
}

var plot = svg.append("g");

// day / night markers
plot.selectAll(".period")
    .data(periodLines)
    .enter().append("line")
    .attr("class", "period")
    .attr("x1", d => Math.round(x(d)) + 0.5)
    .attr("x2", d => Math.round(x(d)) + 0.5)
    .attr("y1", y(90))
    .attr("y2", y(30))
    .attr("stroke", "#a8a8a8")
    .attr("stroke-dasharray", "3,2");

// LAmax points
plot.selectAll(".max")
    .data(toPoints(laMax))
    .enter().append("circle")
    .attr("class", "max")
    .attr("cx", d => x(d[0]))
    .attr("cy", d => y(d[1]))
    .attr("r", 1.5)
    .attr("fill", colors.LAmax);

var line = d3.line()
    .x(d => x(d[0]))
    .y(d => y(d[1]));

plot.append("path")
    .datum(toPoints(laEq))
    .attr("d", line)
    .attr("fill", "none")
    .attr("stroke", colors.LAeq)
    .attr("stroke-width", 1);

plot.append("path")
    .datum(toPoints(la90))
    .attr("d", line)
    .attr("fill", "none")
    .attr("stroke", colors.LA90)
    .attr("stroke-width", 1);

// ---- axes (MATLAB style box, ticks inside) ----
var xTickVals = tickLabels.map((d, i) => i * spanHours / (tickLabels.length - 1));

var axisColor = "#404040";

var xAxis = svg.append("g")
    .attr("transform", `translate(0,${y(30)})`)
    .call(d3.axisBottom(x).tickValues(xTickVals).tickFormat((d, i) => tickLabels[i])
        .tickSizeInner(-10).tickSizeOuter(0).tickPadding(8));

var xTop = svg.append("g")
    .attr("transform", `translate(0,${y(90)})`)
    .call(d3.axisTop(x).tickValues(xTickVals).tickFormat("")
        .tickSizeInner(-5).tickSizeOuter(0));

var yAxis = svg.append("g")
    .attr("transform", `translate(${x(0)},0)`)
    .call(d3.axisLeft(y).tickValues(yTicks).tickSizeInner(-10).tickSizeOuter(0).tickPadding(3));

var yRight = svg.append("g")
    .attr("transform", `translate(${x(spanHours)},0)`)
    .call(d3.axisRight(y).tickValues(yTicks).tickFormat("").tickSizeInner(-10).tickSizeOuter(0));

[xAxis, xTop, yAxis, yRight].forEach(function(g) {
    g.select(".domain").attr("stroke", axisColor).attr("stroke-width", 1.5);
    g.selectAll(".tick line").attr("stroke", "#707070");
    g.selectAll("text")
        .attr("fill", "#404040")
        .attr("font-size", 11)
        .attr("font-family", "'Liberation Sans', Arial");
});

svg.append("text")
    .attr("transform", "translate(30,342) rotate(-90)")
    .attr("text-anchor", "middle")
    .attr("font-size", 10.5)
    .attr("fill", "#404040")
    .text("Sound Pressure Level/dB");

svg.append("text")
    .attr("x", 618)
    .attr("y", 604)
    .attr("text-anchor", "middle")
    .attr("font-size", 14)
    .attr("fill", "#000")
    .text("Time");

// ---- legend ----
var legend = svg.append("g").attr("transform", "translate(1112,113)");

legend.append("rect")
    .attr("width", 70)
    .attr("height", 43)
    .attr("fill", "#fff")
    .attr("stroke", "#808080");

var legendItem = legend.selectAll(".item")
    .data(seriesNames)
    .enter().append("g")
    .attr("class", "item")
    .attr("transform", (d, i) => `translate(0,${8 + i * 13.2})`);

legendItem.filter(d => d === "LAmax").append("circle")
    .attr("cx", 18)
    .attr("cy", 0)
    .attr("r", 1.6)
    .attr("fill", colors.LAmax);

legendItem.filter(d => d !== "LAmax").append("line")
    .attr("x1", 1)
    .attr("x2", 31)
    .attr("stroke", d => colors[d]);

legendItem.append("text")
    .attr("x", 34)
    .attr("y", 4)
    .attr("font-size", 10)
    .attr("fill", "#404040")
    .text(d => d);
</script>
</body>
</html>
